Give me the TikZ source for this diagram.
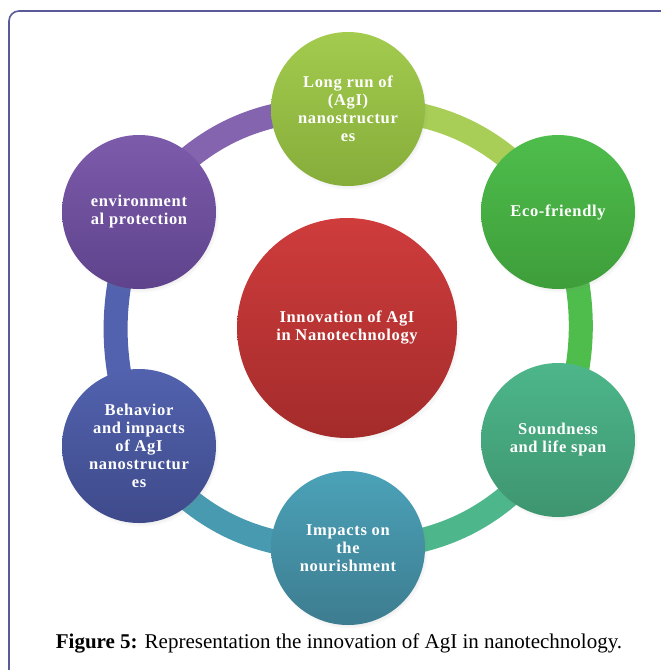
\documentclass[tikz,border=0pt]{standalone}
\usepackage{fontspec}
\setmainfont{Liberation Serif}
\newfontfamily\circfont[LetterSpace=4]{Liberation Serif}
\usetikzlibrary{shadows}
\definecolor{framecol}{HTML}{5A5A9A}
\definecolor{lrA}{HTML}{A3CB4E}\definecolor{lrB}{HTML}{86AD3A}
\definecolor{ecA}{HTML}{4EBD4C}\definecolor{ecB}{HTML}{3E9E3A}
\definecolor{soA}{HTML}{4DB68A}\definecolor{soB}{HTML}{3E9570}
\definecolor{imA}{HTML}{4BA2B8}\definecolor{imB}{HTML}{3D7C90}
\definecolor{beA}{HTML}{5262AE}\definecolor{beB}{HTML}{3E4A8A}
\definecolor{enA}{HTML}{7D5BAB}\definecolor{enB}{HTML}{5E438C}
\definecolor{ceA}{HTML}{CF3C3C}\definecolor{ceB}{HTML}{A42B2B}
\begin{document}
\begin{tikzpicture}[x=1pt,y=-1pt,
  bubble/.style={circle, minimum size=154pt, inner sep=0pt, align=center,
    text=white, font=\circfont\bfseries\fontsize{16.5}{18}\selectfont,
    circular drop shadow={shadow xshift=1.5pt, shadow yshift=-2.5pt, opacity=0.3, shadow scale=1.02}},
  ringseg/.style={line width=24pt}]
\useasboundingbox (0,0) rectangle (661,670);
\draw[framecol, line width=1.6pt, rounded corners=10pt] (9,680) -- (9,11) -- (670,11);
\coordinate (plr) at (348,109);
\coordinate (pec) at (558,212);
\coordinate (pso) at (558,440);
\coordinate (pim) at (348,548);
\coordinate (pbe) at (139,446);
\coordinate (pen) at (139,212);
% ring
\draw[ringseg, enA!95!white] (pen) to[bend left=28] (plr);
\draw[ringseg, lrA!95!white] (plr) to[bend left=28] (pec);
\draw[ringseg, ecA] (pec) to[bend left=20] (pso);
\draw[ringseg, soA] (pso) to[bend left=28] (pim);
\draw[ringseg, imA!95!black] (pim) to[bend left=28] (pbe);
\draw[ringseg, beA] (pbe) to[bend left=20] (pen);
% circles
\node[bubble, minimum size=220pt, top color=ceA, bottom color=ceB] (ce) at (347,328) {Innovation of AgI\\in Nanotechnology};
\node[bubble, top color=lrA, bottom color=lrB] (lr) at (plr) {Long run of\\(AgI)\\nanostructur\\es};
\node[bubble, top color=ecA, bottom color=ecB] (ec) at (pec) {Eco-friendly};
\node[bubble, top color=soA, bottom color=soB] (so) at (pso) {Soundness\\and life span};
\node[bubble, top color=imA, bottom color=imB] (im) at (pim) {Impacts on\\the\\nourishment};
\node[bubble, top color=beA, bottom color=beB] (be) at (pbe) {Behavior\\and impacts\\of AgI\\nanostructur\\es};
\node[bubble, top color=enA, bottom color=enB] (en) at (pen) {environment\\al protection};
\node (cap) at (339,643) {\fontsize{21}{24}\selectfont\textbf{Figure 5:} Representation the innovation of AgI in nanotechnology.};
\end{tikzpicture}
\end{document}
